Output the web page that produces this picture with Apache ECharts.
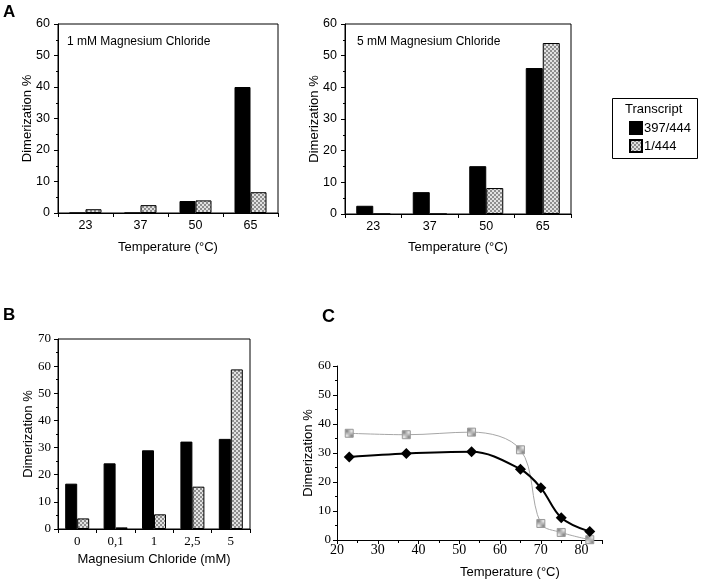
<!DOCTYPE html>
<html>
<head>
<meta charset="utf-8">
<script src="https://cdn.jsdelivr.net/npm/echarts@6/dist/echarts.min.js"></script>
<style>
html,body{margin:0;padding:0;background:#fff;}
#chart{width:702px;height:583px;}
</style>
</head>
<body>
<div id="chart"></div>
<script>
// ---- data ----
const tempCats = ['23', '37', '50', '65'];
const a1Black = [0, 0, 3.8, 40];
const a1Gray = [1.2, 2.5, 4.0, 6.6];
const a5Black = [2.6, 6.9, 15.1, 46.1];
const a5Gray = [0, 0, 8.2, 54.0];

const mgCats = ['0', '0,1', '1', '2,5', '5'];
const bBlack = [16.7, 24.2, 29.0, 32.2, 33.2];
const bGray = [3.9, 0.6, 5.4, 15.6, 58.8];

const cTemps = [23, 37, 53, 65, 70, 75, 82];
const cBlack = [28.6, 29.8, 30.4, 24.4, 18.0, 7.7, 2.9];
const cGray = [36.8, 36.3, 37.2, 31.1, 5.7, 2.6, 0.1];

const seriesNames = ['397/444', '1/444'];

// ---- styles ----
const SANS = 'Liberation Sans, Arial, sans-serif';
const SERIF = 'Liberation Serif, Times New Roman, serif';

const pc = document.createElement('canvas');
pc.width = 4; pc.height = 4;
const pctx = pc.getContext('2d');
pctx.fillStyle = '#e2e2e2'; pctx.fillRect(0, 0, 4, 4);
pctx.fillStyle = '#8e8e8e';
pctx.fillRect(0, 0, 2, 2); pctx.fillRect(2, 2, 2, 2);
const checker = { image: pc, repeat: 'repeat' };

function catAxis(gi, cats, font, size, name, gap) {
  return {
    type: 'category', gridIndex: gi, data: cats,
    axisLine: { lineStyle: { color: '#000', width: 1 } },
    axisTick: { show: true, length: 4, lineStyle: { color: '#000' } },
    axisLabel: { color: '#000', fontFamily: font, fontSize: size, margin: 6 },
    name: name, nameLocation: 'middle', nameGap: gap, nameMoveOverlap: false,
    nameTextStyle: { color: '#000', fontFamily: SANS, fontSize: 13 }
  };
}
function valAxis(gi, max, font, size, gap, margin) {
  return {
    type: 'value', gridIndex: gi, min: 0, max: max, interval: 10,
    axisLine: { show: true, lineStyle: { color: '#000', width: 1 } },
    axisTick: { show: true, length: 4, lineStyle: { color: '#000' } },
    minorTick: { show: true, splitNumber: 2, length: 2, lineStyle: { color: '#000' } },
    splitLine: { show: false },
    axisLabel: { color: '#000', fontFamily: font, fontSize: size, margin: margin },
    name: 'Dimerization %', nameLocation: 'middle', nameGap: gap, nameRotate: 90,
    nameMoveOverlap: false,
    nameTextStyle: { color: '#000', fontFamily: SANS, fontSize: 13 }
  };
}
function bar(name, data, xi, color, w) {
  return {
    type: 'bar', name: name, xAxisIndex: xi, yAxisIndex: xi, data: data,
    barWidth: w, barGap: '0%',
    itemStyle: { color: color, borderColor: '#000', borderWidth: 1 },
    silent: true, animation: false
  };
}

const chart = echarts.init(document.getElementById('chart'), null, { renderer: 'canvas' });
chart.setOption({
  animation: false,
  backgroundColor: '#fff',
  grid: [
    { left: 58, top: 24, width: 220, height: 189, show: true, borderColor: '#000', borderWidth: 1, backgroundColor: 'transparent' },
    { left: 345, top: 24, width: 226, height: 190, show: true, borderColor: '#000', borderWidth: 1, backgroundColor: 'transparent' },
    { left: 58, top: 339, width: 192, height: 190, show: true, borderColor: '#000', borderWidth: 1, backgroundColor: 'transparent' },
    { left: 337, top: 366, width: 265, height: 174 }
  ],
  xAxis: [
    catAxis(0, tempCats, SANS, 12.5, 'Temperature (°C)', 28),
    catAxis(1, tempCats, SANS, 12.5, 'Temperature (°C)', 27),
    catAxis(2, mgCats, SERIF, 13, 'Magnesium Chloride (mM)', 24),
    {
      type: 'value', gridIndex: 3, min: 20, max: 85, interval: 10,
      axisLine: { lineStyle: { color: '#000', width: 1 } },
      axisTick: { show: true, length: 4, lineStyle: { color: '#000' } },
      minorTick: { show: true, splitNumber: 2, length: 3, lineStyle: { color: '#000' } },
      splitLine: { show: false },
      axisLabel: { color: '#000', fontFamily: SERIF, fontSize: 14, margin: 3, showMaxLabel: false }
    }
  ],
  yAxis: [
    valAxis(0, 60, SANS, 12.5, 24, 8),
    valAxis(1, 60, SANS, 12.5, 24, 8),
    valAxis(2, 70, SERIF, 13, 23, 7),
    valAxis(3, 60, SERIF, 13, 22, 6)
  ],
  legend: {
    left: 624, top: 116, orient: 'vertical', itemWidth: 12, itemHeight: 12, itemGap: 4,
    icon: 'rect',
    data: seriesNames, selectedMode: false,
    textStyle: { color: '#000', fontFamily: SANS, fontSize: 13, padding: [0, 0, 0, -3] }
  },
  graphic: [
    { type: 'text', left: 3, top: 4, style: { text: 'A', font: 'bold 17px ' + SANS, fill: '#000' } },
    { type: 'text', left: 3, top: 307, style: { text: 'B', font: 'bold 17px ' + SANS, fill: '#000' } },
    { type: 'text', left: 322, top: 308, style: { text: 'C', font: 'bold 18px ' + SANS, fill: '#000' } },
    { type: 'text', left: 67, top: 36, style: { text: '1 mM Magnesium Chloride', font: '12px ' + SANS, fill: '#000' } },
    { type: 'text', left: 357, top: 36, style: { text: '5 mM Magnesium Chloride', font: '12px ' + SANS, fill: '#000' } },
    { type: 'rect', shape: { x: 612.5, y: 98.5, width: 85, height: 60 }, style: { fill: 'transparent', stroke: '#000', lineWidth: 1 } },
    { type: 'text', left: 625, top: 103, style: { text: 'Transcript', font: '13px ' + SANS, fill: '#000' } },
    { type: 'text', left: 460, top: 566, style: { text: 'Temperature (°C)', font: '13px ' + SANS, fill: '#000', textAlign: 'center' } }
  ],
  series: [
    bar(seriesNames[0], a1Black, 0, '#000', 16),
    bar(seriesNames[1], a1Gray, 0, checker, 16),
    bar(seriesNames[0], a5Black, 1, '#000', 17),
    bar(seriesNames[1], a5Gray, 1, checker, 17),
    bar(seriesNames[0], bBlack, 2, '#000', 12),
    bar(seriesNames[1], bGray, 2, checker, 12),
    {
      type: 'line', name: 'c397', xAxisIndex: 3, yAxisIndex: 3,
      data: cTemps.map((t, i) => [t, cGray[i]]),
      smooth: 0.35, symbol: 'rect', symbolSize: 8, showAllSymbol: true,
      lineStyle: { color: '#a6a6a6', width: 1 },
      itemStyle: { color: checker, borderColor: '#9a9a9a', borderWidth: 1 },
      z: 2, silent: true
    },
    {
      type: 'line', name: 'c1', xAxisIndex: 3, yAxisIndex: 3,
      data: cTemps.map((t, i) => [t, cBlack[i]]),
      smooth: 0.35, symbol: 'diamond', symbolSize: 11, showAllSymbol: true,
      lineStyle: { color: '#000', width: 2 },
      itemStyle: { color: '#000' },
      z: 3, silent: true
    }
  ]
});
</script>
</body>
</html>
